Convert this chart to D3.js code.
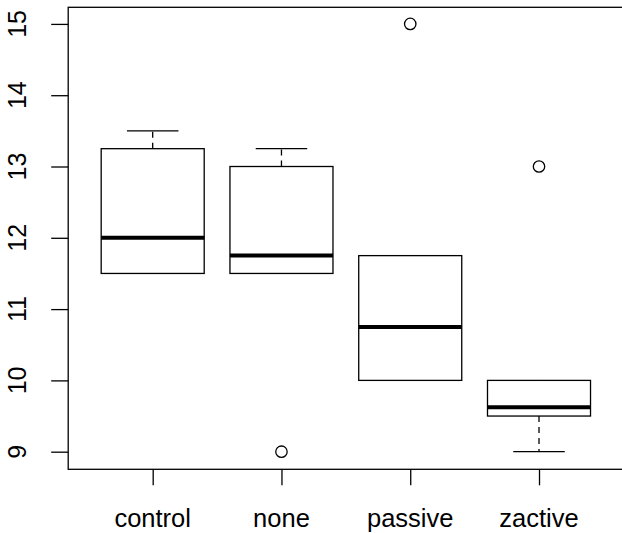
<!DOCTYPE html>
<html>
<head>
<meta charset="utf-8">
<script src="https://cdn.jsdelivr.net/npm/d3@7"></script>
<style>
  html, body { margin: 0; background: #fff; overflow: hidden; }
  svg { display: block; overflow: hidden; font-family: "Liberation Sans", Arial, sans-serif; }
</style>
</head>
<body>
<script>
// boxplot stats
const groups   = ["control", "none", "passive", "zactive"];
const whiskLo  = [11.5, 11.5, 10, 9];
const q1       = [11.5, 11.5, 10, 9.5];
const medians  = [12, 11.75, 10.75, 9.625];
const q3       = [13.25, 13, 11.75, 10];
const whiskHi  = [13.5, 13.25, 11.75, 10];
const outliers = [[], [9], [15], [13]];
const yTicks   = [9, 10, 11, 12, 13, 14, 15];

const width = 622, height = 533;

const svg = d3.select("body").append("svg")
    .attr("width", width)
    .attr("height", height);

// R style: 4% expansion on both axes
const x = d3.scaleLinear()
  .domain([0.34, 4.66])
  .range([67.7, 624]);

const y = d3.scaleLinear()
  .domain([8.76, 15.24])
  .range([468.8, 6.8]);

const boxW = (x(2) - x(1)) * 0.8;

// frame (right side falls outside the picture, as in the original)
svg.append("rect")
    .attr("x", x(0.34) + 0.5)
    .attr("y", y(15.24) + 0.5)
    .attr("width", x(4.66) - x(0.34) + 6)
    .attr("height", y(8.76) - y(15.24))
    .attr("fill", "none")
    .attr("stroke", "#000")
    .attr("stroke-width", 1.3);

// y axis
const yAxis = d3.axisLeft(y)
  .tickValues(yTicks)
  .tickSize(17)
  .tickFormat(() => "");

svg.append("g")
    .attr("transform", `translate(${x(0.34) + 0.5},0)`)
    .call(yAxis)
    .call(g => g.select(".domain").remove())
    .call(g => g.selectAll("line").attr("stroke-width", 1.3));

svg.append("g")
  .selectAll("text")
  .data(yTicks)
  .join("text")
    .attr("transform", d => `translate(26,${y(d)}) rotate(-90)`)
    .attr("text-anchor", "middle")
    .attr("font-size", 25)
    .attr("fill", "#000")
    .text(d => d);

// x axis
const xAxis = d3.axisBottom(x)
  .tickValues([1, 2, 3, 4])
  .tickSize(16)
  .tickFormat(() => "");

svg.append("g")
    .attr("transform", `translate(0,${y(8.76) + 0.5})`)
    .call(xAxis)
    .call(g => g.select(".domain").remove())
    .call(g => g.selectAll("line").attr("stroke-width", 1.3));

svg.append("g")
  .selectAll("text")
  .data(groups)
  .join("text")
    .attr("x", (d, i) => x(i + 1))
    .attr("y", 527)
    .attr("text-anchor", "middle")
    .attr("font-size", 25.5)
    .attr("fill", "#000")
    .text(d => d);

// boxes
const g = svg.append("g").attr("stroke", "#000").attr("fill", "none");

groups.forEach((name, i) => {
  const cx = x(i + 1);

  // whiskers (dashed)
  g.append("line")
      .attr("x1", cx).attr("x2", cx)
      .attr("y1", y(q3[i])).attr("y2", y(whiskHi[i]))
      .attr("stroke-width", 1.3)
      .attr("stroke-dasharray", "6,5");
  g.append("line")
      .attr("x1", cx).attr("x2", cx)
      .attr("y1", y(q1[i])).attr("y2", y(whiskLo[i]))
      .attr("stroke-width", 1.3)
      .attr("stroke-dasharray", "6,5");

  // staples
  if (whiskHi[i] > q3[i]) {
    g.append("line")
        .attr("x1", cx - boxW / 4).attr("x2", cx + boxW / 4)
        .attr("y1", y(whiskHi[i])).attr("y2", y(whiskHi[i]))
        .attr("stroke-width", 1.3);
  }
  if (whiskLo[i] < q1[i]) {
    g.append("line")
        .attr("x1", cx - boxW / 4).attr("x2", cx + boxW / 4)
        .attr("y1", y(whiskLo[i])).attr("y2", y(whiskLo[i]))
        .attr("stroke-width", 1.3);
  }

  // box
  g.append("rect")
      .attr("x", cx - boxW / 2)
      .attr("y", y(q3[i]))
      .attr("width", boxW)
      .attr("height", y(q1[i]) - y(q3[i]))
      .attr("fill", "#fff")
      .attr("stroke-width", 1.3);

  // median
  g.append("line")
      .attr("x1", cx - boxW / 2).attr("x2", cx + boxW / 2)
      .attr("y1", y(medians[i])).attr("y2", y(medians[i]))
      .attr("stroke-width", 4);

  // outliers
  g.selectAll(null)
    .data(outliers[i])
    .join("circle")
      .attr("cx", cx)
      .attr("cy", d => y(d))
      .attr("r", 5.7)
      .attr("stroke-width", 1.3);
});
</script>
</body>
</html>
